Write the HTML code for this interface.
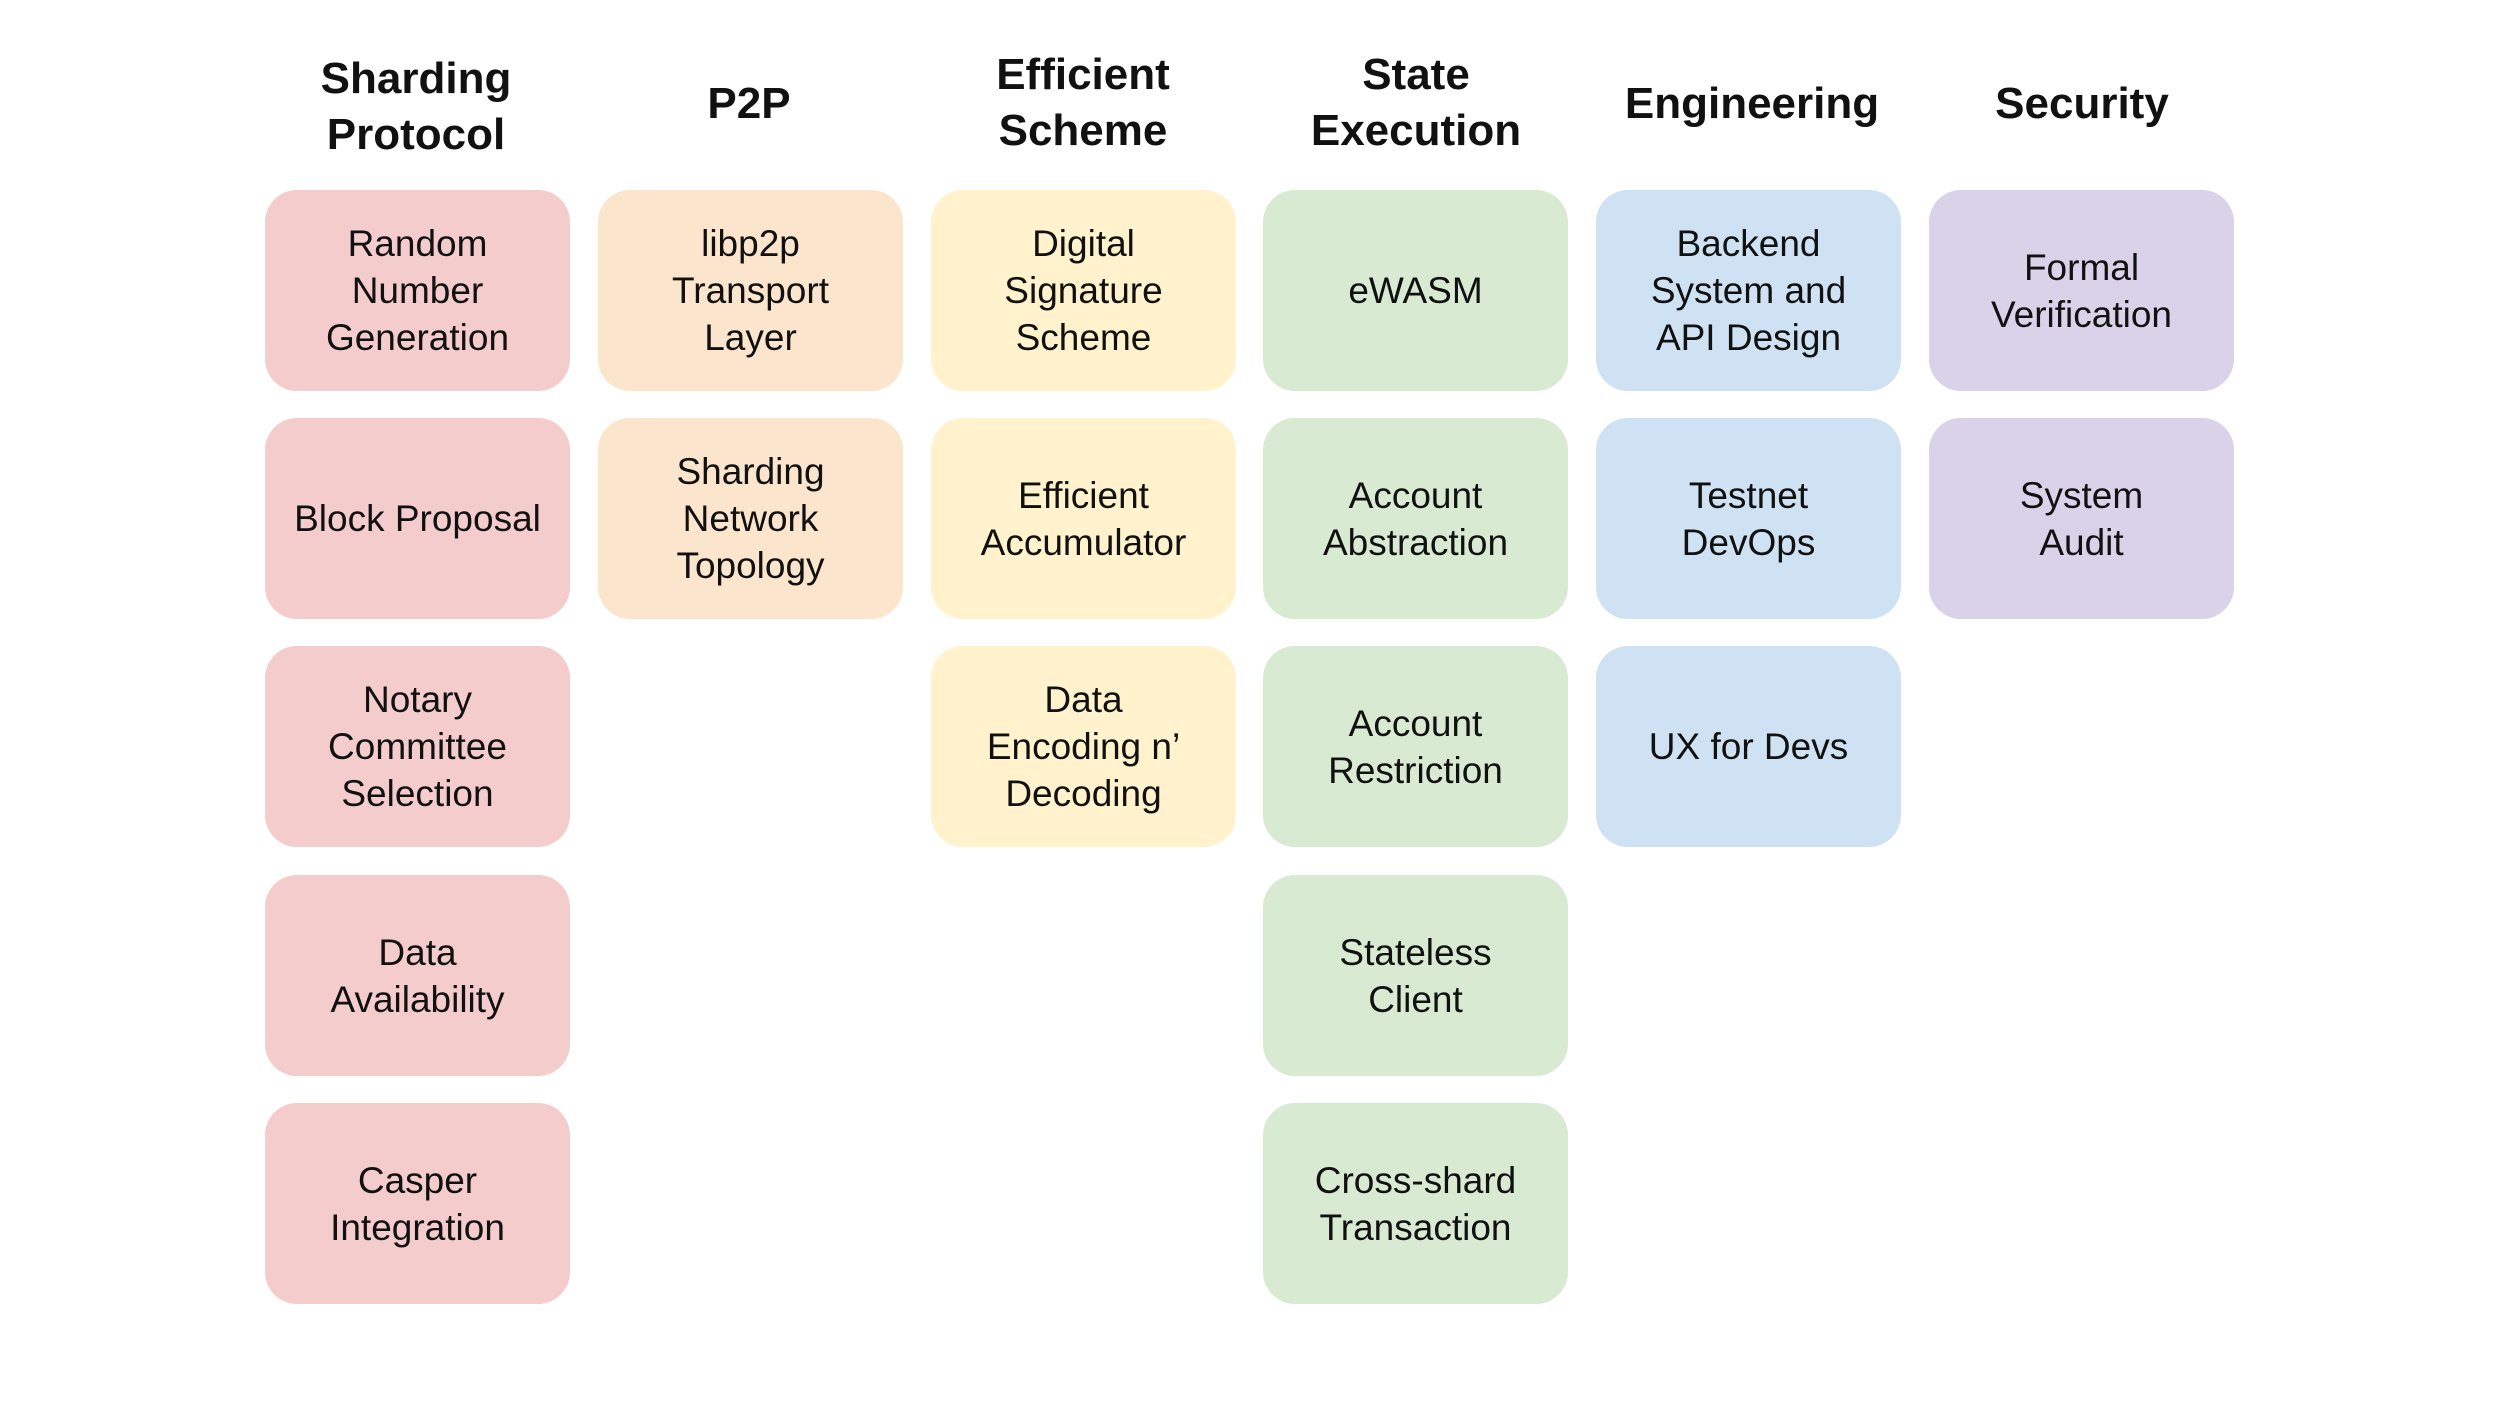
<!DOCTYPE html>
<html><head><meta charset="utf-8"><style>
body{margin:0;width:2500px;height:1406px;background:#fff;position:relative;overflow:hidden;font-family:"Liberation Sans",sans-serif;color:#111}
.h{position:absolute;width:360px;text-align:center;font-weight:bold;font-size:44px;line-height:56px;transform:translate(-50%,-50%)}
.b{position:absolute;width:305px;height:201px;border-radius:32px;display:flex;align-items:center;justify-content:center;text-align:center;font-size:37px;line-height:47px}
.r{background:#f4cccc}.o{background:#fce5cd}.y{background:#fff2cc}.g{background:#d9ead3}.bl{background:#cfe2f3}.p{background:#d9d2e9}
</style></head><body>
<div class="h" style="left:416px;top:107px">Sharding<br>Protocol</div>
<div class="h" style="left:749px;top:104px">P2P</div>
<div class="h" style="left:1083px;top:103px">Efficient<br>Scheme</div>
<div class="h" style="left:1416px;top:103px">State<br>Execution</div>
<div class="h" style="left:1752px;top:104px">Engineering</div>
<div class="h" style="left:2082px;top:104px">Security</div>

<div class="b r" style="left:265px;top:190px">Random<br>Number<br>Generation</div>
<div class="b r" style="left:265px;top:418px">Block Proposal</div>
<div class="b r" style="left:265px;top:646px">Notary<br>Committee<br>Selection</div>
<div class="b r" style="left:265px;top:875px">Data<br>Availability</div>
<div class="b r" style="left:265px;top:1103px">Casper<br>Integration</div>

<div class="b o" style="left:598px;top:190px">libp2p<br>Transport<br>Layer</div>
<div class="b o" style="left:598px;top:418px">Sharding<br>Network<br>Topology</div>

<div class="b y" style="left:931px;top:190px">Digital<br>Signature<br>Scheme</div>
<div class="b y" style="left:931px;top:418px">Efficient<br>Accumulator</div>
<div class="b y" style="left:931px;top:646px">Data<br>Encoding n’<br>Decoding</div>

<div class="b g" style="left:1263px;top:190px">eWASM</div>
<div class="b g" style="left:1263px;top:418px">Account<br>Abstraction</div>
<div class="b g" style="left:1263px;top:646px">Account<br>Restriction</div>
<div class="b g" style="left:1263px;top:875px">Stateless<br>Client</div>
<div class="b g" style="left:1263px;top:1103px">Cross-shard<br>Transaction</div>

<div class="b bl" style="left:1596px;top:190px">Backend<br>System and<br>API Design</div>
<div class="b bl" style="left:1596px;top:418px">Testnet<br>DevOps</div>
<div class="b bl" style="left:1596px;top:646px">UX for Devs</div>

<div class="b p" style="left:1929px;top:190px">Formal<br>Verification</div>
<div class="b p" style="left:1929px;top:418px">System<br>Audit</div>
</body></html>
